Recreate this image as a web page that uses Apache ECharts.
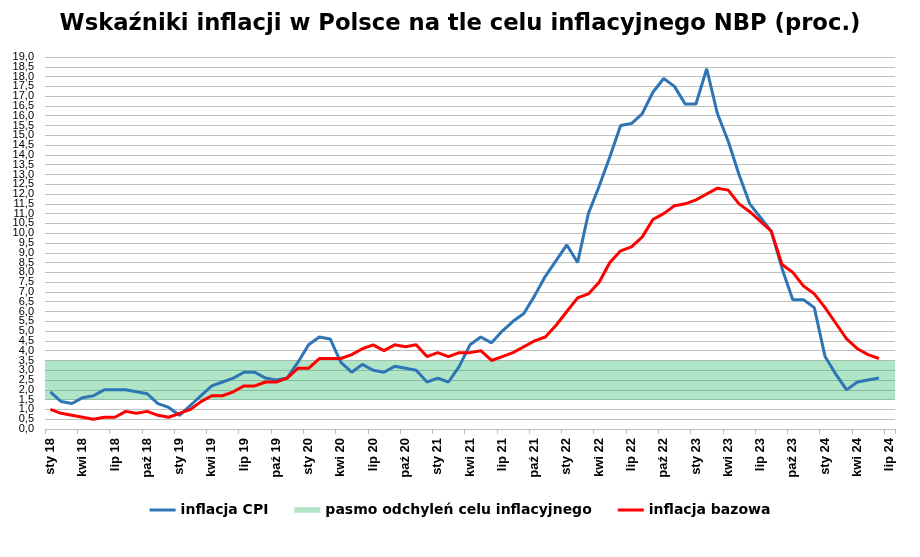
<!DOCTYPE html>
<html>
<head>
<meta charset="utf-8">
<script src="https://cdn.jsdelivr.net/npm/echarts@6/dist/echarts.min.js"></script>
<style>html,body{margin:0;padding:0;background:#fff}#c{width:920px;height:557px}</style>
</head>
<body>
<div id="c"></div>
<script>
// Category pieces: month abbreviations and years (Jan 2018 .. Jul 2024)
const monthNames = ['sty','lut','mar','kwi','maj','cze','lip','sie','wrz','paź','lis','gru'];
const years = ['18','19','20','21','22','23','24'];
const lastYearMonths = 7; // 2024: sty..lip

// CPI y/y (%)
const cpi = [
  1.9,1.4,1.3,1.6,1.7,2.0,2.0,2.0,1.9,1.8,1.3,1.1,
  0.7,1.2,1.7,2.2,2.4,2.6,2.9,2.9,2.6,2.5,2.6,3.4,
  4.3,4.7,4.6,3.4,2.9,3.3,3.0,2.9,3.2,3.1,3.0,2.4,
  2.6,2.4,3.2,4.3,4.7,4.4,5.0,5.5,5.9,6.8,7.8,8.6,
  9.4,8.5,11.0,12.4,13.9,15.5,15.6,16.1,17.2,17.9,17.5,16.6,
  16.6,18.4,16.1,14.7,13.0,11.5,10.8,10.1,8.2,6.6,6.6,6.2,
  3.7,2.8,2.0,2.4,2.5,2.6
];
// Core inflation (%)
const core = [
  1.0,0.8,0.7,0.6,0.5,0.6,0.6,0.9,0.8,0.9,0.7,0.6,
  0.8,1.0,1.4,1.7,1.7,1.9,2.2,2.2,2.4,2.4,2.6,3.1,
  3.1,3.6,3.6,3.6,3.8,4.1,4.3,4.0,4.3,4.2,4.3,3.7,
  3.9,3.7,3.9,3.9,4.0,3.5,3.7,3.9,4.2,4.5,4.7,5.3,
  6.0,6.7,6.9,7.5,8.5,9.1,9.3,9.8,10.7,11.0,11.4,11.5,
  11.7,12.0,12.3,12.2,11.5,11.1,10.6,10.1,8.4,8.0,7.3,6.9,
  6.2,5.4,4.6,4.1,3.8,3.6
];
// Tolerance band of the NBP target
const bandLow = 1.5;
const bandHigh = 3.5;

// Y axis range and step
const yMin = 0;
const yMax = 19;
const yStep = 0.5;

const categories = [];
years.forEach((y, yi) => {
  const n = yi === years.length - 1 ? lastYearMonths : 12;
  for (let m = 0; m < n; m++) categories.push(monthNames[m] + ' ' + y);
});

const BLUE = '#2E75B6';
const RED = '#FF0000';
const BAND = 'rgba(29,181,98,0.35)';
const fmt = v => v.toFixed(1).replace('.', ',');
const yLabelStyle = {margin: 11, fontFamily: 'Liberation Sans', fontSize: 11, color: '#000', formatter: fmt};

const chart = echarts.init(document.getElementById('c'), null, {renderer: 'canvas'});
chart.setOption({
  backgroundColor: '#ffffff',
  animation: false,
  title: {
    text: 'Wskaźniki inflacji w Polsce na tle celu inflacyjnego NBP (proc.)',
    left: 'center',
    top: 8,
    textStyle: {fontFamily: 'DejaVu Sans', fontWeight: 900, fontSize: 22.7, color: '#000'}
  },
  legend: {
    left: 'center',
    top: 498,
    itemGap: 26,
    itemWidth: 26,
    itemHeight: 14,
    textStyle: {fontFamily: 'DejaVu Sans', fontWeight: 'bold', fontSize: 14, color: '#000'},
    data: [
      {name: 'inflacja CPI', icon: 'path://M0,0L26,0L26,3L0,3Z', itemStyle: {color: BLUE}},
      {name: 'pasmo odchyleń celu inflacyjnego', icon: 'path://M0,0L28,0L28,6L0,6Z', itemStyle: {color: BAND}},
      {name: 'inflacja bazowa', icon: 'path://M0,0L26,0L26,3L0,3Z', itemStyle: {color: RED}}
    ]
  },
  grid: {left: 45, right: 25, top: 57, bottom: 128},
  xAxis: {
    type: 'category',
    data: categories,
    boundaryGap: true,
    axisLine: {show: true, lineStyle: {color: '#BFBFBF', width: 1}},
    axisTick: {show: true, interval: 2, length: 5, lineStyle: {color: '#BFBFBF'}},
    axisLabel: {
      interval: 2, rotate: 90, margin: 9,
      fontFamily: 'Liberation Sans', fontWeight: 'bold', fontSize: 13, color: '#000'
    },
    splitLine: {show: false}
  },
  yAxis: [
    {
      type: 'value', position: 'left',
      min: yMin, max: yMax, interval: yStep,
      axisLine: {show: false},
      axisTick: {show: false},
      axisLabel: Object.assign({showMinLabel: false, showMaxLabel: false}, yLabelStyle),
      splitLine: {lineStyle: {color: '#BFBFBF', width: 1}}
    },
    {
      // only the end labels (0,0 and 19,0)
      type: 'value', position: 'left', offset: 0,
      min: yMin, max: yMax, interval: yMax - yMin,
      axisLine: {show: false},
      axisTick: {show: false},
      axisLabel: Object.assign({showMinLabel: true, showMaxLabel: true}, yLabelStyle),
      splitLine: {show: false}
    }
  ],
  series: [
    {
      name: 'inflacja CPI', type: 'line', data: cpi, z: 2,
      symbol: 'none', smooth: false,
      lineStyle: {color: BLUE, width: 3},
      itemStyle: {color: BLUE}
    },
    {
      name: 'pasmo odchyleń celu inflacyjnego', type: 'line', data: [], z: 3,
      symbol: 'none',
      itemStyle: {color: BAND},
      lineStyle: {color: BAND},
      markArea: {
        silent: true,
        itemStyle: {color: BAND},
        data: [[{yAxis: bandLow}, {yAxis: bandHigh}]]
      }
    },
    {
      name: 'inflacja bazowa', type: 'line', data: core, z: 4,
      symbol: 'none', smooth: false,
      lineStyle: {color: RED, width: 3},
      itemStyle: {color: RED}
    }
  ]
});
</script>
</body>
</html>
